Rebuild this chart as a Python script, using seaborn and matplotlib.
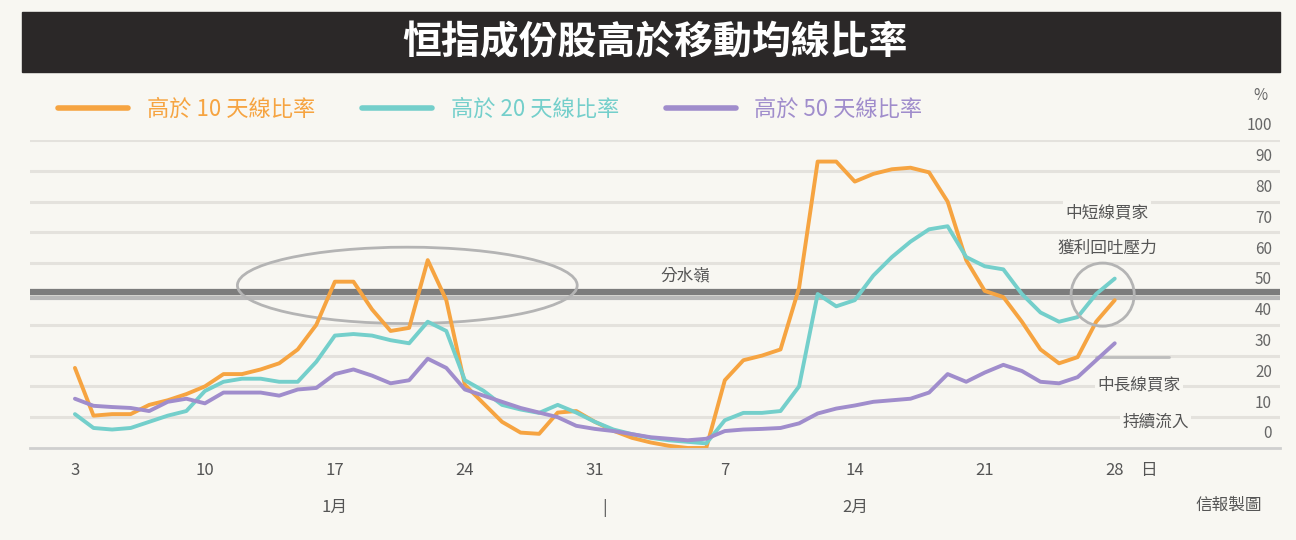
import seaborn as sns
import matplotlib.pyplot as plt
import pandas as pd
from matplotlib.patches import Ellipse, Rectangle
from matplotlib.transforms import blended_transform_factory

# days counted from 3 Jan (calendar days)
days = list(range(57))

# % of HSI constituents above their moving averages
above_10d = [26, 10.5, 11, 11, 14, 15.5, 17.5, 20, 24, 24, 25.5, 27.5, 32, 40, 54,
             54, 45, 38, 39, 61, 48, 20.5, 14.5, 8.5, 5, 4.6, 11.5, 12, 8.5, 5.6,
             3.3, 1.8, 0.7, 0, 0, 22, 28.5, 30, 32, 52, 93, 93, 86.5, 89, 90.5,
             91, 89.5, 80, 61, 51, 49, 41, 32, 27.5, 29.5, 41, 48]
above_20d = [11, 6.5, 6, 6.5, 8.5, 10.5, 12, 18.5, 21.5, 22.5, 22.5, 21.5, 21.5, 28,
             36.5, 37, 36.5, 35, 34, 41, 38, 22, 18.6, 14, 12.5, 11.4, 14, 11.5,
             8.5, 6, 4.5, 3.3, 2.5, 2, 1.5, 9, 11.4, 11.4, 12, 20, 50, 46, 48, 56,
             62, 67, 71, 72, 62, 59, 58, 50, 44, 41, 42.5, 50, 55]
above_50d = [16, 13.7, 13.3, 13, 12, 15, 16, 14.5, 18, 18, 18, 17, 19, 19.5, 24,
             25.5, 23.5, 21, 22, 29, 26, 19, 17, 15, 13, 11.5, 10, 7.2, 6.2, 5.5,
             4.5, 3.5, 3, 2.5, 3, 5.5, 6, 6.2, 6.5, 8, 11.2, 12.8, 13.8, 15, 15.5,
             16, 18, 24, 21.5, 24.5, 27, 25, 21.5, 21, 23, 28.5, 34]

series_names = ["高於 10 天線比率", "高於 20 天線比率", "高於 50 天線比率"]
colors = ["#f6a441", "#74cfcb", "#a08dcc"]

tick_days = [0, 7, 14, 21, 28, 35, 42, 49, 56]
tick_labels = ["3", "10", "17", "24", "31", "7", "14", "21", "28"]
y_ticks = list(range(0, 101, 10))

df = pd.DataFrame({
    "day": days * 3,
    "value": above_10d + above_20d + above_50d,
    "series": [series_names[0]] * 57 + [series_names[1]] * 57 + [series_names[2]] * 57,
})

sns.set_theme(style="white")
plt.rcParams['font.family'] = ['Noto Sans CJK TC', 'DejaVu Sans']

bg = "#f8f7f2"
fig = plt.figure(figsize=(12.96, 5.4), dpi=100, facecolor=bg)
W, H = 1296, 540
ax = fig.add_axes([30 / W, 1 - 448 / H, 1250 / W, 308 / H])
ax.set_facecolor("none")

# title bar
fig.patches.append(Rectangle((22 / W, 1 - 72 / H), 1258 / W, 60 / H,
                             transform=fig.transFigure, color="#2b2828", zorder=0))
fig.text(655 / W, 1 - 43 / H, "恒指成份股高於移動均線比率", color="white",
         fontsize=28, fontweight="bold", ha="center", va="center")

ax.set_xlim(-2.42, 64.9)
ax.set_ylim(0, 100)

# grid + 50% watershed line
for v in y_ticks[1:]:
    ax.axhline(v, color="#e4e2dd", lw=2.2, zorder=0)
ax.axhline(50.5, color="#7c7c7c", lw=4.5, zorder=1)
ax.axhline(48.8, color="#b8b8b8", lw=3, zorder=1)

sns.lineplot(data=df, x="day", y="value", hue="series", palette=colors,
             linewidth=2.8, ax=ax, zorder=3)

leg = ax.legend(loc="upper left", bbox_to_anchor=(38 / W, 1 - 78 / H),
                bbox_transform=fig.transFigure, ncol=3, frameon=False,
                fontsize=16, handlelength=3.15, handletextpad=0.85,
                columnspacing=2.1, labelcolor="linecolor")
for line in leg.get_lines():
    line.set_linewidth(4)

# axes styling
for s in ["top", "right", "left"]:
    ax.spines[s].set_visible(False)
ax.spines["bottom"].set_color("#cfcfcf")
ax.spines["bottom"].set_linewidth(2)
ax.set_xticks(tick_days)
ax.set_xticklabels(tick_labels, fontsize=12, color="#555555")
ax.tick_params(axis="x", direction="out", length=7, width=1.6, color="#c4c4c4", pad=3)
ax.set_yticks([])
ax.set_xlabel("")
ax.set_ylabel("")

# right-side y labels
tr = blended_transform_factory(ax.transAxes, ax.transData)
for v in y_ticks:
    ax.text(0.9936, v + 1.8, str(v), transform=tr, ha="right", va="bottom",
            fontsize=11, color="#666666")
fig.text(1268 / W, 1 - 95 / H, "%", ha="right", va="center", fontsize=11, color="#666666")

# lower labels
ax.text(57.8, -7.2, "日", ha="center", va="center", fontsize=12, color="#555555",
        clip_on=False)
for d, lab in [(14, "1月"), (28.5, "|"), (42, "2月")]:
    ax.text(d, -16.5, lab, ha="center", va="top", fontsize=12, color="#555555",
            clip_on=False)
fig.text(1262 / W, 1 - 505 / H, "信報製圖", ha="right", va="center",
         fontsize=12, color="#555555")

# annotations
ax.add_patch(Ellipse((17.9, 52.8), 18.3, 24.8, fill=False, ec="#b4b4b4", lw=2, zorder=2))
ax.add_patch(Ellipse((55.35, 49.8), 3.4, 20.5, fill=False, ec="#b4b4b4", lw=2, zorder=4))
ax.text(32.9, 56, "分水嶺", ha="center", va="center", fontsize=12, color="#555555")
box = dict(boxstyle="square,pad=0.15", fc=bg, ec="none")
ax.text(55.6, 76.5, "中短線買家", ha="center", va="center", fontsize=12,
        color="#555555", bbox=box, zorder=5)
ax.text(55.6, 65, "獲利回吐壓力", ha="center", va="center", fontsize=12,
        color="#555555", bbox=box, zorder=5)
ax.plot([55.0, 58.9], [29.5, 29.5], color="#bdbdbd", lw=2, zorder=2)
ax.text(57.3, 20.5, "中長線買家", ha="center", va="center", fontsize=12,
        color="#555555", bbox=box, zorder=5)
ax.text(58.2, 8.5, "持續流入", ha="center", va="center", fontsize=12,
        color="#555555", bbox=box, zorder=5)

fig.savefig("out.png", dpi=100, facecolor=bg)
